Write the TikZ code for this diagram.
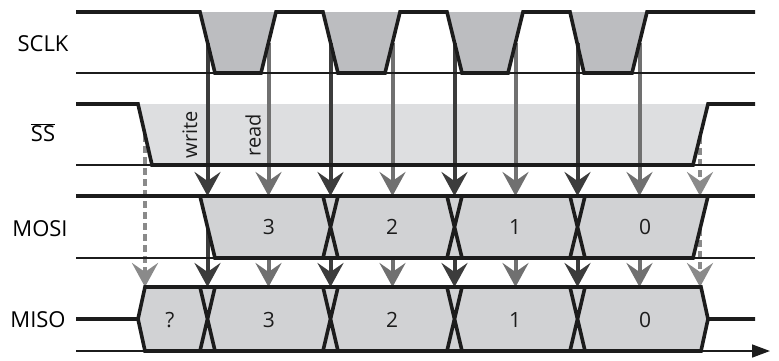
\documentclass[tikz,border=0pt]{standalone}
\usepackage{fontspec}
\setmainfont{Open Sans}
\usetikzlibrary{arrows.meta,positioning}
\definecolor{clkgray}{RGB}{188,189,192}
\definecolor{ssgray}{RGB}{221,222,224}
\definecolor{busgray}{RGB}{209,210,212}
\definecolor{writegray}{RGB}{60,60,60}
\definecolor{readgray}{RGB}{112,112,112}
\definecolor{dashgray}{RGB}{138,138,138}
\definecolor{linegray}{RGB}{28,28,28}
\tikzset{
  signal/.style={draw=linegray,line width=3.6pt},
  refline/.style={draw=linegray,line width=1.5pt},
  timeaxis/.style={refline,-{Triangle[length=18pt,width=13pt]}},
  clkfill/.style={fill=clkgray},
  ssfill/.style={fill=ssgray},
  busfill/.style={fill=busgray},
  writearrow/.style={draw=writegray,line width=4pt,-{Stealth[length=24pt,width=26pt,inset=9pt]}},
  readarrow/.style={writearrow,draw=readgray},
  ssarrow/.style={writearrow,draw=dashgray,dash pattern=on 7pt off 4pt},
  siglabel/.style={font=\fontsize{22}{26}\selectfont},
  buslabel/.style={font=\fontsize{21}{25}\selectfont,text=linegray},
  edgelabel/.style={font=\fontsize{20}{24}\selectfont,rotate=90,text=linegray},
}

\begin{document}
\begin{tikzpicture}[x=1pt,y=-1pt]
  \path[use as bounding box] (0,0) rectangle (779,360);

  % shaded phases
  \foreach \a/\b in {200/261,323/385,447/508,570/632}
    \fill[clkfill] (\a,12) -- (\a+15,73) -- (\b,73) -- (\b+15,12) -- cycle;
  \fill[ssfill] (138,104) -- (152,165) -- (693,165) -- (708,104) -- cycle;

  \node[edgelabel] (wlab) at (190,135) {write};
  \node[edgelabel] (rlab) at (253,135) {read};

  % sampling arrows
  \foreach \n/\x in {1/207.5,2/330.5,3/454.5,4/577.5} {
    \coordinate (wclk\n) at (\x,43);
    \coordinate (wmosi\n) at (\x,196);
    \coordinate (wmiso\n) at (\x,287);
    \draw[writearrow] (wclk\n) -- (wmosi\n);
    \draw[writearrow] (wmosi\n) -- (wmiso\n);
  }
  \foreach \n/\x in {1/268.5,2/392.5,3/515.5,4/639.5} {
    \coordinate (rclk\n) at (\x,43);
    \coordinate (rmosi\n) at (\x,196);
    \coordinate (rmiso\n) at (\x,287);
    \draw[readarrow] (rclk\n) -- (rmosi\n);
    \draw[readarrow] (rmosi\n) -- (rmiso\n);
  }
  \coordinate (ssfall) at (145,135);
  \coordinate (ssfallmiso) at (145,287);
  \coordinate (ssrise) at (700,137);
  \coordinate (ssrisemosi) at (700,196);
  \coordinate (ssrisemiso) at (700,287);
  \draw[ssarrow] (ssfall) -- (ssfallmiso);
  \draw[ssarrow] (ssrise) -- (ssrisemosi);
  \draw[ssarrow] (ssrisemosi) -- (ssrisemiso);

  % data buses
  \fill[busfill] (200,196) -- (708,196) -- (693,258) -- (215,258) -- cycle;
  \fill[busfill] (138,319) -- (145,287) -- (701,287) -- (708,319) -- (701,351) -- (145,351) -- cycle;

  \foreach \y in {73,165,258}
    \draw[refline] (76,\y) -- (755,\y);
  \coordinate (tstart) at (76,351);
  \coordinate (tend) at (770,351);
  \draw[timeaxis] (tstart) -- (tend);

  % waveforms
  \draw[signal] (76,12) -- (200,12) -- (215,73) -- (261,73) -- (276,12) -- (323,12) -- (338,73)
    -- (385,73) -- (400,12) -- (447,12) -- (462,73) -- (508,73) -- (523,12) -- (570,12)
    -- (584,73) -- (632,73) -- (647,12) -- (755,12);
  \draw[signal] (76,104) -- (138,104) -- (152,165) -- (693,165) -- (708,104) -- (755,104);
  \draw[signal] (76,196) -- (755,196);
  \draw[signal] (200,196) -- (215,258) -- (693,258) -- (708,196);
  \foreach \a in {323,447,570}
    \draw[signal] (\a,196) -- (\a+15,258) (\a+15,196) -- (\a,258);
  \draw[signal] (76,319) -- (138,319) -- (145,287) -- (701,287) -- (708,319) -- (755,319);
  \draw[signal] (138,319) -- (145,351) -- (701,351) -- (708,319);
  \foreach \a in {200,323,447,570}
    \draw[signal] (\a,287) -- (\a+15,351) (\a+15,287) -- (\a,351);

  \node[siglabel] (sclk) at (43,44) {SCLK};
  \node[siglabel] (ss) at (43,133) {$\overline{\hbox{SS}}$};
  \node[siglabel] (mosi) at (40,229) {MOSI};
  \node[siglabel] (miso) at (38,320) {MISO};

  \node[buslabel] (mosi3) at (269,227) {3};
  \node[buslabel] (mosi2) at (392,227) {2};
  \node[buslabel] (mosi1) at (515,227) {1};
  \node[buslabel] (mosi0) at (645,227) {0};
  \node[buslabel] (misoq) at (170,320) {?};
  \node[buslabel] (miso3) at (269,320) {3};
  \node[buslabel] (miso2) at (392,320) {2};
  \node[buslabel] (miso1) at (515,320) {1};
  \node[buslabel] (miso0) at (645,320) {0};
\end{tikzpicture}
\end{document}
